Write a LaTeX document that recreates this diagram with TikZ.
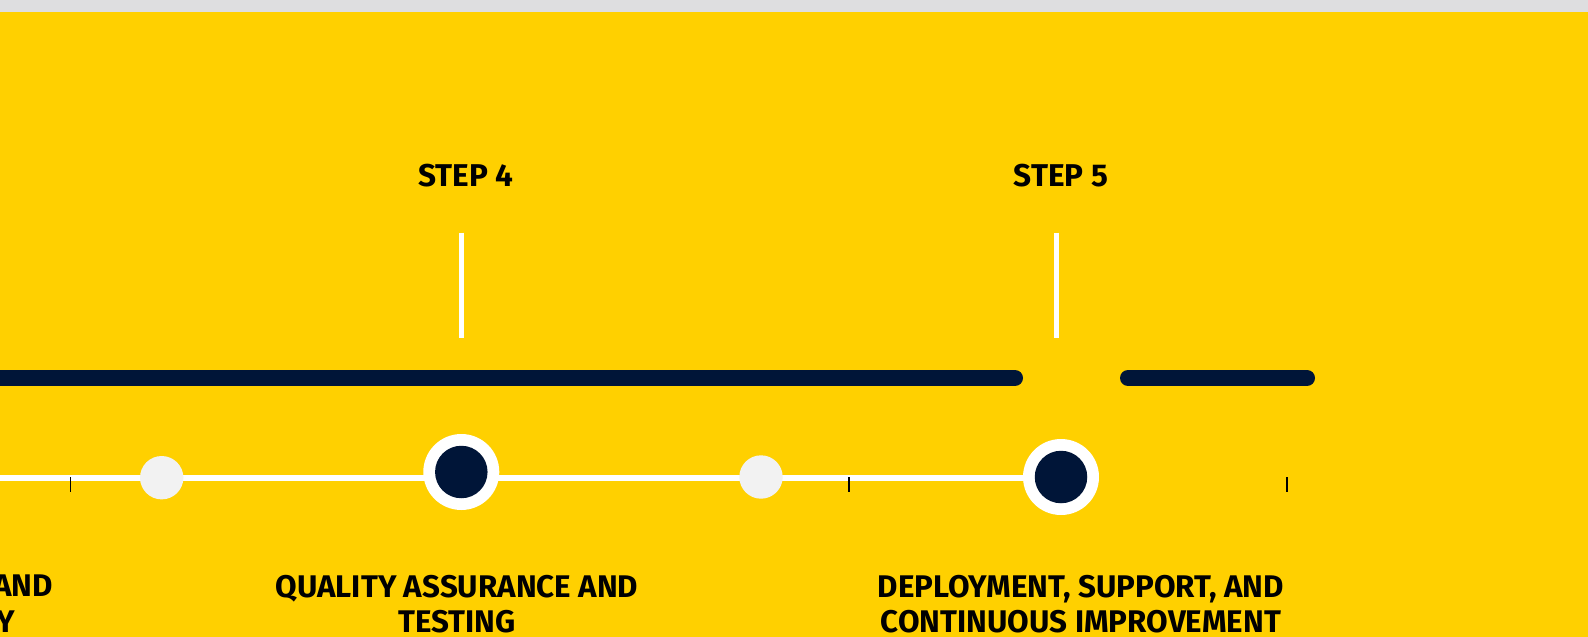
\documentclass[tikz,border=0pt]{standalone}
\usepackage{fontspec}
\setmainfont{Fira Sans}
\definecolor{bgyellow}{RGB}{255,208,0}
\definecolor{topgray}{RGB}{222,222,224}
\definecolor{navy}{RGB}{0,21,56}
\definecolor{lightdot}{RGB}{242,242,242}
\tikzset{
  stepfont/.style={font=\bfseries\fontsize{31.5}{36}\selectfont, text=black, inner sep=0pt},
  labelfont/.style={font=\bfseries\fontsize{31.3}{35.5}\selectfont, text=black, inner sep=0pt, align=center},
  navybar/.style={line width=16pt, draw=navy, line cap=round},
  whiteline/.style={line width=6pt, draw=white},
  stemline/.style={line width=5pt, draw=white},
  tick/.style={line width=1.5pt, draw=black},
  lightnode/.style={circle, fill=lightdot, minimum size=43.4pt, inner sep=0pt},
  outerring/.style={circle, fill=white, minimum size=76pt, inner sep=0pt},
  innerdot/.style={circle, fill=navy, minimum size=52.5pt, inner sep=0pt},
}
\begin{document}
\begin{tikzpicture}[x=1pt,y=-1pt]
\useasboundingbox (0,0) rectangle (1588,637);
\fill[topgray] (0,0) rectangle (1588,12);
\fill[bgyellow] (0,12) rectangle (1588,637);
% navy bars
\coordinate (b1s) at (-20,378);
\coordinate (b1e) at (1015,378);
\coordinate (b2s) at (1128,378);
\coordinate (b2e) at (1307,378);
\draw[navybar] (b1s) -- (b1e);
\draw[navybar] (b2s) -- (b2e);
% timeline
\coordinate (ls) at (-10,478);
\coordinate (le) at (1061,478);
\coordinate (l1) at (161.7,477.7);
\coordinate (l2) at (761,477);
\coordinate (s4) at (461.3,472);
\coordinate (s5) at (1061,477);
\draw[whiteline] (ls) -- (le);
\node[lightnode] (n1) at (l1) {};
\node[lightnode] (n2) at (l2) {};
\node[outerring] (r4) at (s4) {};
\node[outerring] (r5) at (s5) {};
\node[innerdot] (d4) at (s4) {};
\node[innerdot] (d5) at (s5) {};
% ticks
\coordinate (t1a) at (70.7,477); \coordinate (t1b) at (70.7,492);
\coordinate (t2a) at (849,477); \coordinate (t2b) at (849,492);
\coordinate (t3a) at (1287,477); \coordinate (t3b) at (1287,492);
\draw[tick] (t1a) -- (t1b);
\draw[tick] (t2a) -- (t2b);
\draw[tick] (t3a) -- (t3b);
% stems
\coordinate (st4a) at (461.5,232.7); \coordinate (st4b) at (461.5,337.7);
\coordinate (st5a) at (1056,232.7); \coordinate (st5b) at (1056,337.7);
\draw[stemline] (st4a) -- (st4b);
\draw[stemline] (st5a) -- (st5b);
% step titles
\node[stepfont, anchor=base] (h4) at (466,186.7) {STEP 4};
\node[stepfont, anchor=base] (h5) at (1061,186.7) {STEP 5};
% labels
\node[labelfont, anchor=base] (q4) at (457,632.5) {QUALITY ASSURANCE AND\\TESTING};
\node[labelfont, anchor=base] (q5) at (1081,632.5) {DEPLOYMENT, SUPPORT, AND\\CONTINUOUS IMPROVEMENT};
\node[labelfont, anchor=base east] (q3a) at (53.3,596.5) {AND};
\node[labelfont, anchor=base east] (q3b) at (15,632.5) {Y};
\end{tikzpicture}
\end{document}
